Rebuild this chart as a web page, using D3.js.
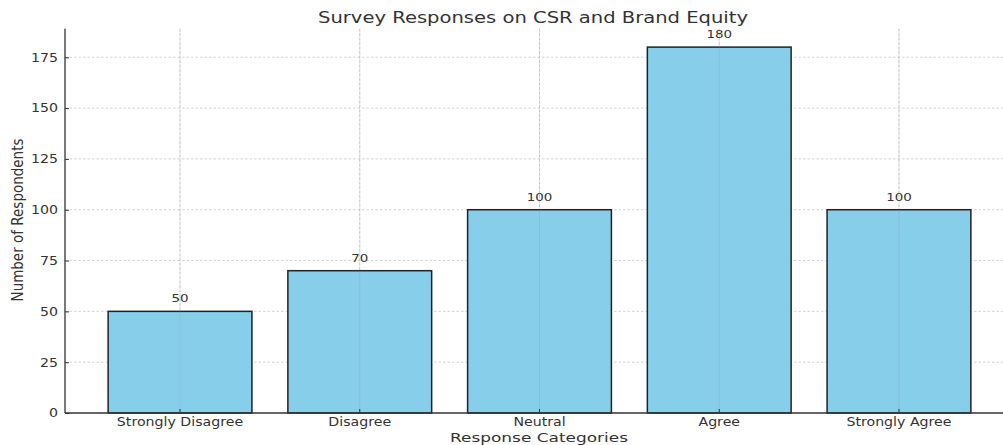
<!DOCTYPE html>
<html>
<meta charset="utf-8" />
<script src="https://d3js.org/d3.v7.min.js"></script>
<body>
<div id="chart"></div>
<script>
var categories = ["Strongly Disagree", "Disagree", "Neutral", "Agree", "Strongly Agree"];
var counts = [50, 70, 100, 180, 100];
var yTicks = [0, 25, 50, 75, 100, 125, 150, 175];

var W = 1003, H = 445;
var plotLeft = 65, plotRight = 1014, plotBottom = 413, plotTop = 28.8;

var svg = d3.select("#chart").append("svg")
    .attr("width", W)
    .attr("height", H)
    .style("font-family", "DejaVu Sans, sans-serif");

var x = d3.scaleBand()
    .domain(categories)
    .range([plotLeft, plotRight])
    .paddingInner(0.2)
    .paddingOuter(0.24);

var y = d3.scaleLinear()
    .domain([0, 189])
    .range([plotBottom, plotTop]);

// the reference text is a bit wider than normal DejaVu
function stretch(sel, f) {
  sel.each(function() {
    var w = this.getComputedTextLength();
    d3.select(this).attr("textLength", w * f).attr("lengthAdjust", "spacingAndGlyphs");
  });
}

// grid
svg.append("g").selectAll("line")
  .data(yTicks.slice(1))
  .enter().append("line")
    .attr("x1", plotLeft).attr("x2", W)
    .attr("y1", function(d) { return y(d); })
    .attr("y2", function(d) { return y(d); })
    .attr("stroke", "#c8c8c8")
    .attr("stroke-width", 0.8)
    .attr("stroke-dasharray", "2.5,2");

svg.append("g").selectAll("line")
  .data(categories)
  .enter().append("line")
    .attr("x1", function(d) { return x(d) + x.bandwidth() / 2; })
    .attr("x2", function(d) { return x(d) + x.bandwidth() / 2; })
    .attr("y1", plotTop).attr("y2", plotBottom)
    .attr("stroke", "#c8c8c8")
    .attr("stroke-width", 0.8)
    .attr("stroke-dasharray", "2.5,2");

// bars
svg.append("g").selectAll("rect")
  .data(counts)
  .enter().append("rect")
    .attr("x", function(d, i) { return x(categories[i]); })
    .attr("y", function(d) { return y(d); })
    .attr("width", x.bandwidth())
    .attr("height", function(d) { return plotBottom - y(d); })
    .attr("fill", "#87ceeb")
    .attr("stroke", "#222")
    .attr("stroke-width", 1.5);

// faint vertical grid over bars
svg.append("g").selectAll("line")
  .data(categories)
  .enter().append("line")
    .attr("x1", function(d) { return x(d) + x.bandwidth() / 2; })
    .attr("x2", function(d) { return x(d) + x.bandwidth() / 2; })
    .attr("y1", plotTop).attr("y2", plotBottom)
    .attr("stroke", "#888")
    .attr("stroke-opacity", 0.25)
    .attr("stroke-width", 0.8);

// value labels
var vals = svg.append("g").selectAll("text")
  .data(counts)
  .enter().append("text")
    .attr("x", function(d, i) { return x(categories[i]) + x.bandwidth() / 2; })
    .attr("y", function(d) { return y(d) - 9; })
    .attr("text-anchor", "middle")
    .attr("font-size", 11)
    .attr("fill", "#333")
    .text(function(d) { return d; });
stretch(vals, 1.22);

// axes
var yAxis = svg.append("g")
    .attr("transform", "translate(" + plotLeft + ",0)")
    .call(d3.axisLeft(y).tickValues(yTicks).tickSizeInner(-4).tickSizeOuter(0).tickPadding(7));
var xAxis = svg.append("g")
    .attr("transform", "translate(0," + plotBottom + ")")
    .call(d3.axisBottom(x).tickSizeInner(-4).tickSizeOuter(0).tickPadding(4));

[yAxis, xAxis].forEach(function(a) {
  a.select(".domain").attr("stroke", "#333").attr("stroke-width", 1.3);
  a.selectAll(".tick line").attr("stroke", "#333").attr("stroke-width", 1);
  a.selectAll("text").attr("font-size", 12).attr("fill", "#333")
    .attr("font-family", "DejaVu Sans, sans-serif");
  stretch(a.selectAll("text"), 1.18);
});
yAxis.select(".domain").attr("d", "M0," + plotTop + "V" + plotBottom);
xAxis.select(".domain").attr("d", "M" + plotLeft + ",0H" + plotRight);

// title and axis labels
svg.append("text")
    .attr("x", 533).attr("y", 23)
    .attr("text-anchor", "middle")
    .attr("font-size", 16)
    .attr("fill", "#333")
    .attr("textLength", 430)
    .attr("lengthAdjust", "spacingAndGlyphs")
    .text("Survey Responses on CSR and Brand Equity");

svg.append("text")
    .attr("x", 539).attr("y", 442)
    .attr("text-anchor", "middle")
    .attr("font-size", 13)
    .attr("fill", "#333")
    .attr("textLength", 178)
    .attr("lengthAdjust", "spacingAndGlyphs")
    .text("Response Categories");

svg.append("text")
    .attr("transform", "translate(22.5,220) scale(1.18,1) rotate(-90)")
    .attr("text-anchor", "middle")
    .attr("font-size", 13.5)
    .attr("fill", "#333")
    .text("Number of Respondents");
</script>
</body>
<style>
body { margin: 0; background: #fff; }
svg { display: block; overflow: hidden; }
</style>
</html>
